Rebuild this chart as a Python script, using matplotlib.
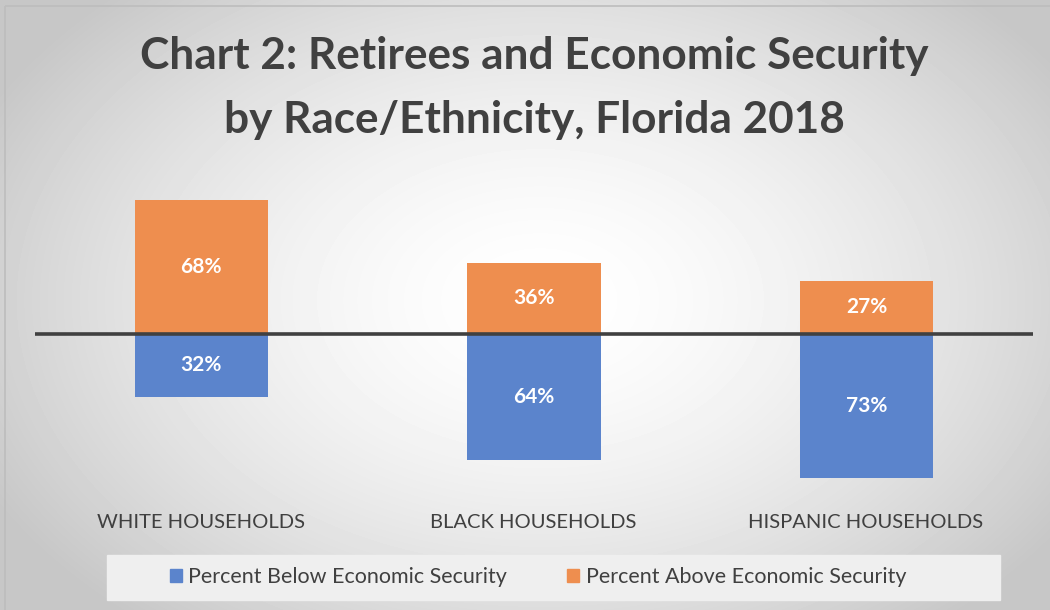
import numpy as np
import matplotlib.pyplot as plt
from matplotlib.patches import Rectangle, Patch

categories  = ["WHITE HOUSEHOLDS", "BLACK HOUSEHOLDS", "HISPANIC HOUSEHOLDS"]
below       = [32, 64, 73]      # percent below economic security
above       = [68, 36, 27]      # percent above economic security
series      = ["Percent Below Economic Security", "Percent Above Economic Security"]
title       = "Chart 2: Retirees and Economic Security\nby Race/Ethnicity, Florida 2018"

blue    = "#5B84CC"
orange  = "#EE8E4F"
grey    = "#404040"

plt.rcParams['font.family'] = ['Lato', 'DejaVu Sans']

fig = plt.figure(figsize=(10.5, 6.1), dpi=100)

# radial gradient background
bg = fig.add_axes([0, 0, 1, 1], zorder=-10)
yy, xx = np.mgrid[0:610, 0:1050]
r = np.sqrt(((xx - 540) / 620.0)**2 + ((yy - 300) / 420.0)**2)
shade = 1.0 - 0.22 * np.clip(r, 0, 1)**1.6
bg.imshow(shade, cmap='gray', vmin=0, vmax=1, extent=[0, 1050, 610, 0], aspect='auto')
bg.add_patch(Rectangle((5, 6), 1050, 610, fill=False, edgecolor="#bdbdbd", lw=1.2))
bg.set_xlim(0, 1050)
bg.set_ylim(610, 0)
bg.axis('off')

ax = fig.add_axes([35/1050, 1-500/610, 998/1050, 320/610])
ax.patch.set_alpha(0)
x = np.arange(len(categories))
ax.bar(x, [-v for v in below], width=0.4, color=blue, zorder=2)
ax.bar(x, above, width=0.4, color=orange, zorder=2)
ax.axhline(0, color=grey, lw=2.6, zorder=3)

for i in range(len(categories)):
    ax.text(x[i], above[i]/2, f"{above[i]}%", ha='center', va='center',
            color='white', fontsize=15, fontweight='bold', zorder=4)
    ax.text(x[i], -below[i]/2, f"{below[i]}%", ha='center', va='center',
            color='white', fontsize=15, fontweight='bold', zorder=4)

ax.set_xlim(-0.5, 2.5)
ax.set_ylim(-84.3, 78)
ax.axis('off')

for i, c in enumerate(categories):
    fig.text((201 + 332.5*i)/1050, 1-523/610, c, ha='center', va='center',
             color=grey, fontsize=14.5)

fig.text(534/1050, 1-88/610, title, ha='center', va='center', color=grey,
         fontsize=31.8, fontweight='bold', linespacing=1.7)

# legend strip
bg.add_patch(Rectangle((107, 555), 893, 45, color="#efefef", zorder=1))
handles = [Patch(color=blue), Patch(color=orange)]
fig.legend(handles, series, loc='center', bbox_to_anchor=(538/1050, 1-577/610),
           ncol=2, frameon=False, fontsize=15.5, labelcolor=grey,
           handlelength=0.55, handleheight=0.55, handletextpad=0.3, columnspacing=2.8)

fig.savefig("out.png", dpi=100)
